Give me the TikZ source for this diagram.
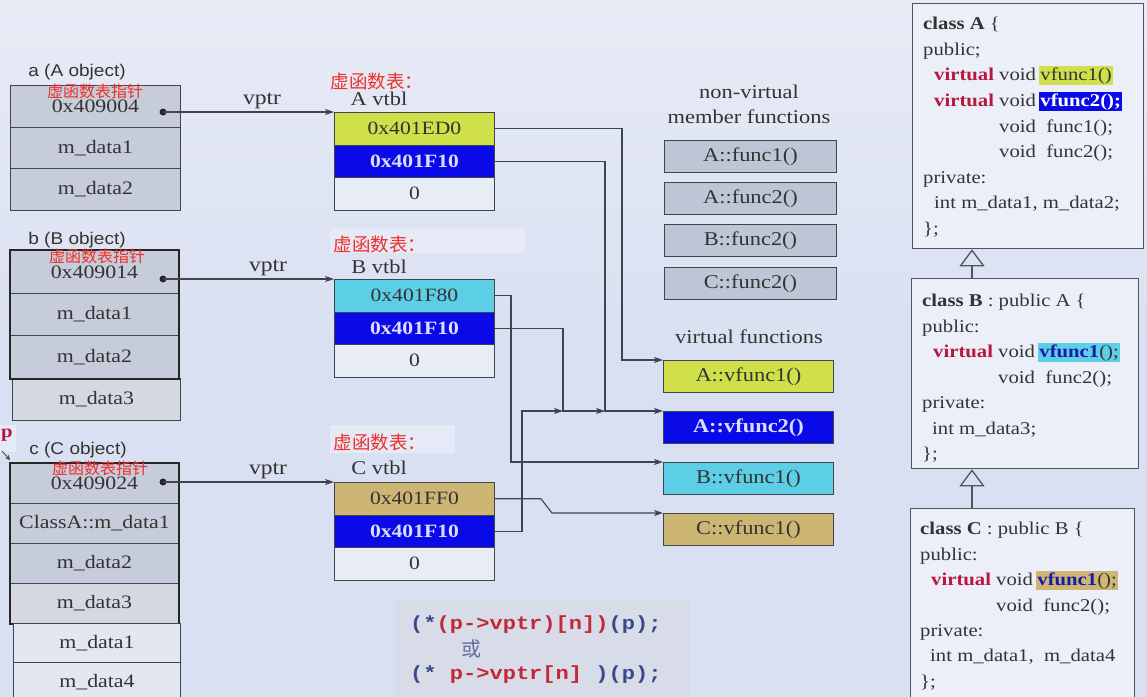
\documentclass[tikz,border=0pt]{standalone}
\usepackage{fontspec}
\setmainfont{Liberation Serif}[FakeStretch=1.15]
\setsansfont{Liberation Sans}[FakeStretch=1.12]
\setmonofont{Liberation Mono}[FakeStretch=1.16]
\newfontfamily\cjk{Noto Sans CJK SC}
\usetikzlibrary{arrows.meta,calc}
\definecolor{bgtop}{HTML}{E8EBF6}
\definecolor{bgbot}{HTML}{D9E0F1}
\definecolor{hlbg}{HTML}{E6E9F6}
\definecolor{objfill}{HTML}{C6CCD9}
\definecolor{objlight}{HTML}{D5D8E0}
\definecolor{objwhite}{HTML}{E3E7F1}
\definecolor{vyel}{HTML}{D0E04A}
\definecolor{vblue}{HTML}{0A0AE8}
\definecolor{vcyan}{HTML}{5CCFE6}
\definecolor{vtan}{HTML}{CDB673}
\definecolor{vwhite}{HTML}{E8ECF5}
\definecolor{fgray}{HTML}{BEC6D6}
\definecolor{linec}{HTML}{40444F}
\definecolor{clsline}{HTML}{50545E}
\definecolor{txt}{HTML}{333333}
\definecolor{redlbl}{HTML}{F0302A}
\definecolor{virt}{HTML}{B8163F}
\definecolor{codeblue}{HTML}{3A4A88}
\definecolor{codered}{HTML}{C42838}
\definecolor{bluetxt}{HTML}{DCDCFF}
\definecolor{clsfill}{HTML}{ECEFF8}
\definecolor{codebg}{HTML}{D8DCE8}
\definecolor{navytxt}{HTML}{1A1AA8}
\newcommand\objf{\fontsize{19}{23}\selectfont}
\newcommand\vtf{\fontsize{18.8}{22}\selectfont}
\newcommand\fnf{\fontsize{19.5}{25}\selectfont}
\newcommand\clsf{\fontsize{18}{22}\selectfont}
\newcommand\lblf{\sffamily\fontsize{17}{20}\selectfont}
\newcommand\redf{\cjk\fontsize{18.5}{22}\selectfont}
\newcommand\redsf{\cjk\fontsize{16}{19}\selectfont}
\newcommand\codef{\ttfamily\bfseries\fontsize{19}{23}\selectfont}
\newcommand\vtl{\textcolor{virt}{\textbf{virtual}}}
\setlength{\fboxsep}{1.5pt}
\begin{document}
\begin{tikzpicture}[x=1pt,y=-1pt,
  objrow/.style={draw=linec, line width=0.9pt, anchor=north west, inner sep=0pt, text=txt, font=\objf, fill=objfill, minimum width=170pt, minimum height=41.5pt},
  vrow/.style={draw=linec, line width=0.9pt, anchor=north west, inner sep=0pt, text=txt, font=\vtf, minimum width=160pt, minimum height=32.5pt},
  bluerow/.style={fill=vblue, text=bluetxt, font=\vtf\bfseries},
  funcbox/.style={draw=linec, line width=0.9pt, anchor=north west, inner sep=0pt, text=txt, font=\fnf, minimum width=172pt, minimum height=32pt},
  clsbox/.style={draw=clsline, line width=1.3pt, anchor=north west, fill=clsfill, inner sep=0pt},
  cl/.style={anchor=base west, inner sep=0pt, font=\clsf, text=txt},
  lbl/.style={font=\lblf, text=txt, inner sep=0pt},
  redlab/.style={font=\redf, text=redlbl, inner sep=0pt},
  redsmall/.style={font=\redsf, text=redlbl, inner sep=0pt},
  serlab/.style={font=\fnf, text=txt, inner sep=0pt},
  dotn/.style={circle, fill=black!85, inner sep=0pt, minimum size=7pt},
  arr/.style={draw=linec, line width=1.1pt, -{Stealth[length=9pt,width=6pt,inset=2.5pt]}},
  thickbox/.style={draw=black!85, line width=2.2pt},
  inh/.style={draw=clsline, line width=1.3pt, -{Triangle[open,length=17pt,width=25pt]}},
  codeline/.style={anchor=west, inner sep=0pt, font=\codef}
]
\useasboundingbox (0,0) rectangle (1147,696);
\clip (0,0) rectangle (1147,696);
\shade[top color=bgtop, bottom color=bgbot, middle color=bgbot] (0,0) rectangle (1147,696);
% light highlight bands
\fill[hlbg] (330,228) rectangle (525,253);
\fill[hlbg] (330,425) rectangle (455,453);
\fill[hlbg] (0,425) rectangle (16,452);
\fill[codebg] (395,600) rectangle (690,700);

% ---------- object a ----------
\node[lbl] (alab) at (77,72) {a (A object)};
\node[objrow] (a0) at (10,85) {\raisebox{-3pt}{0x409004}};
\node[objrow] (a1) at (10,126.5) {m\_data1};
\node[objrow] (a2) at (10,168) {m\_data2};
\node[redsmall] (ared) at (95,91) {虚函数表指针};
\node[dotn] (adot) at (163,112) {};

% ---------- object b ----------
\node[lbl] (blab) at (77,240) {b (B object)};
\node[objrow, minimum width=168pt, minimum height=42.7pt] (b0) at (10,250) {\raisebox{-3pt}{0x409014}};
\node[objrow, minimum width=168pt, minimum height=42.7pt] (b1) at (10,292.7) {m\_data1};
\node[objrow, minimum width=168pt, minimum height=42.6pt] (b2) at (10,335.4) {m\_data2};
\node[objrow, minimum width=168pt, minimum height=42pt, fill=objlight] (b3) at (12,378) {m\_data3};
\draw[thickbox] (b0.north west) rectangle (b2.south east);
\node[redsmall] (bred) at (97,256) {虚函数表指针};
\node[dotn] (bdot) at (163,279) {};

% ---------- object c ----------
\node[font=\bfseries\fontsize{18}{20}\selectfont, text=virt, inner sep=0pt] (plab) at (7,435) {p};
\coordinate (pst) at (2,451);
\coordinate (pen) at (10,460);
\draw[draw=linec, line width=0.8pt, -{Stealth[length=5pt,width=5pt]}] (pst) -- (pen);
\node[lbl] (clab) at (78,450) {c (C object)};
\node[objrow, minimum width=168pt, minimum height=40pt] (c0) at (10,463) {\raisebox{-3pt}{0x409024}};
\node[objrow, minimum width=168pt, minimum height=40pt] (c1) at (10,503) {ClassA::m\_data1};
\node[objrow, minimum width=168pt, minimum height=40pt] (c2) at (10,543) {m\_data2};
\node[objrow, minimum width=168pt, minimum height=40pt, fill=objlight] (c3) at (10,583) {m\_data3};
\draw[thickbox] (c0.north west) rectangle (c3.south east);
\node[objrow, minimum width=167pt, minimum height=39pt, fill=objwhite] (c4) at (13,623) {m\_data1};
\node[objrow, minimum width=167pt, minimum height=39pt, fill=objwhite] (c5) at (13,662) {m\_data4};
\node[redsmall] (cred) at (100,468) {虚函数表指针};
\node[dotn] (cdot) at (163,482) {};

% ---------- vtables ----------
\node[redlab] (Ared) at (377,81) {虚函数表：};
\node[serlab] (Alab) at (379,99) {A vtbl};
\node[vrow, fill=vyel] (Av1) at (334,112) {0x401ED0};
\node[vrow, bluerow] (Av2) at (334,144.5) {0x401F10};
\node[vrow, fill=vwhite] (Av3) at (334,177) {0};

\node[redlab] (Bred) at (380,244) {虚函数表：};
\node[serlab] (Blab) at (379,267) {B vtbl};
\node[vrow, fill=vcyan] (Bv1) at (334,279) {0x401F80};
\node[vrow, bluerow] (Bv2) at (334,311.5) {0x401F10};
\node[vrow, fill=vwhite] (Bv3) at (334,344) {0};

\node[redlab] (Cred) at (380,442) {虚函数表：};
\node[serlab] (Clab) at (379,468) {C vtbl};
\node[vrow, fill=vtan] (Cv1) at (334,482) {0x401FF0};
\node[vrow, bluerow] (Cv2) at (334,514.5) {0x401F10};
\node[vrow, fill=vwhite] (Cv3) at (334,547) {0};

% vptr arrows
\node[serlab, font=\fontsize{20.5}{24}\selectfont] (avp) at (262,101) {vptr};
\node[serlab, font=\fontsize{20.5}{24}\selectfont] (bvp) at (268,268) {vptr};
\node[serlab, font=\fontsize{20.5}{24}\selectfont] (cvp) at (268,471) {vptr};
\draw[arr] (adot.center) -- (Av1.north west);
\draw[arr] (bdot.center) -- (Bv1.north west);
\draw[arr] (cdot.center) -- (Cv1.north west);

% ---------- non-virtual functions ----------
\node[serlab, align=center] (nvh) at (749,104.5) {non-virtual\\member functions};
\node[funcbox, fill=fgray] (nf1) at (664,140) {A::func1()};
\node[funcbox, fill=fgray] (nf2) at (664,182) {A::func2()};
\node[funcbox, fill=fgray] (nf3) at (664,224) {B::func2()};
\node[funcbox, fill=fgray] (nf4) at (664,267) {C::func2()};

% ---------- virtual functions ----------
\node[serlab] (vh) at (749,337) {virtual functions};
\node[funcbox, minimum width=170pt, fill=vyel] (vf1) at (663,360) {A::vfunc1()};
\node[funcbox, minimum width=170pt, fill=vblue, text=bluetxt, font=\fnf\bfseries] (vf2) at (663,411) {A::vfunc2()};
\node[funcbox, minimum width=170pt, fill=vcyan] (vf3) at (663,462) {B::vfunc1()};
\node[funcbox, minimum width=170pt, fill=vtan] (vf4) at (663,513) {C::vfunc1()};

% ---------- vtable -> function connectors ----------
\coordinate (lnA1) at (622,250);
\coordinate (lnA2) at (605,250);
\coordinate (lnB1) at (511,400);
\coordinate (lnB2) at (563,380);
\coordinate (lnC2) at (522,450);
\coordinate (jB) at (vf2.north west -| lnA2);
\coordinate (jC) at (vf2.north west -| lnB2);
\draw[arr] (Av1.east) -| (lnA1) |- (vf1.north west);
\draw[arr] (Av2.east) -| (lnA2) |- (vf2.north west);
\draw[arr] (Bv2.east) -| (lnB2) |- (jB);
\draw[arr] (Cv2.east) -| (lnC2) |- (jC);
\draw[arr] (Bv1.east) -| (lnB1) |- (vf3.north west);
\draw[arr] (Cv1.east) -- ++(46,0) -- ([xshift=-111pt]vf4.north west) -- (vf4.north west);

% ---------- class declarations ----------
\node[clsbox, minimum width=231pt, minimum height=245pt] (clsA) at (912,3) {};
\node[clsbox, minimum width=227pt, minimum height=190pt] (clsB) at (911,278) {};
\node[clsbox, minimum width=224pt, minimum height=195pt] (clsC) at (910,508) {};
\coordinate (inhx) at (972,0);
\draw[inh] (clsB.north -| inhx) -- (clsA.south -| inhx);
\draw[inh] (clsC.north -| inhx) -- (clsB.south -| inhx);

\node[cl] (A1) at (923,29) {\textbf{class A} \{};
\node[cl] (A2) at (923,55) {public;};
\node[cl] (A3) at (934,80) {\vtl{} void\,\colorbox{vyel}{vfunc1()}};
\node[cl] (A4) at (934,106) {\vtl{} void\,\colorbox{vblue}{\textcolor{white}{\textbf{vfunc2();}}}};
\node[cl] (A5) at (934,132) {\phantom{\textbf{virtual} }void\ \ func1();};
\node[cl] (A6) at (934,157) {\phantom{\textbf{virtual} }void\ \ func2();};
\node[cl] (A7) at (923,183) {private:};
\node[cl] (A8) at (934,208) {int m\_data1, m\_data2;};
\node[cl] (A9) at (923,234) {\};};

\node[cl] (B1) at (922,306) {\textbf{class B} : public A \{};
\node[cl] (B2) at (922,332) {public:};
\node[cl] (B3) at (933,357) {\vtl{} void\,\colorbox{vcyan}{\textcolor{navytxt}{\textbf{vfunc1}}();}};
\node[cl] (B4) at (933,383) {\phantom{\textbf{virtual} }void\ \ func2();};
\node[cl] (B5) at (922,408) {private:};
\node[cl] (B6) at (932,434) {int m\_data3;};
\node[cl] (B7) at (922,459) {\};};

\node[cl] (C1) at (920,534) {\textbf{class C} : public B \{};
\node[cl] (C2) at (920,560) {public:};
\node[cl] (C3) at (931,585) {\vtl{} void\,\colorbox{vtan}{\textcolor{navytxt}{\textbf{vfunc1}}();}};
\node[cl] (C4) at (931,611) {\phantom{\textbf{virtual} }void\ \ func2();};
\node[cl] (C5) at (920,636) {private:};
\node[cl] (C6) at (930,661) {int m\_data1,\ \ m\_data4};
\node[cl] (C7) at (920,687) {\};};

% ---------- code ----------
\node[codeline] (code1) at (410,625) {\textcolor{codeblue}{(*}\textcolor{codered}{(p->vptr)[n])}\textcolor{codeblue}{(p);}};
\node[inner sep=0pt, font=\cjk\fontsize{20}{24}\selectfont, text=codeblue!80] (huo) at (471,649) {或};
\node[codeline] (code2) at (410,675) {\textcolor{codeblue}{(*}\ \textcolor{codered}{p->vptr[n]}\ \textcolor{codeblue}{)(p);}};
\end{tikzpicture}
\end{document}
